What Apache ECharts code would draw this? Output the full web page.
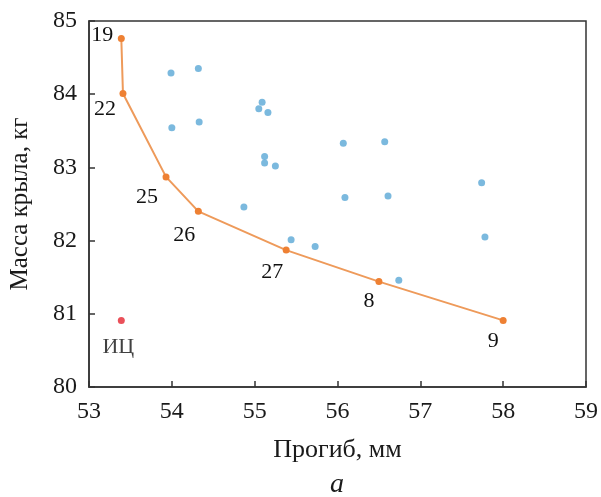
<!DOCTYPE html>
<html><head><meta charset="utf-8">
<script src="https://cdn.jsdelivr.net/npm/echarts@6/dist/echarts.min.js"></script>
<style>html,body{margin:0;padding:0;background:#fff}#c{width:601px;height:497px}</style>
</head><body><div id="c"></div>
<script>
// Pareto front (orange)
const paretoX = [53.39, 53.41, 53.93, 54.32, 55.38, 56.50, 58.00];
const paretoY = [84.76, 84.01, 82.87, 82.40, 81.87, 81.44, 80.91];
const paretoLabels = ['19', '22', '25', '26', '27', '8', '9'];
// Other designs (blue)
const otherX = [53.99, 54.32, 54.00, 54.33, 55.09, 55.05, 55.16, 55.12, 55.12, 55.25, 54.87, 55.44, 55.73, 56.07, 56.57, 56.09, 56.61, 57.74, 57.78, 56.74];
const otherY = [84.29, 84.35, 83.54, 83.62, 83.89, 83.80, 83.75, 83.15, 83.06, 83.02, 82.46, 82.01, 81.92, 83.33, 83.35, 82.59, 82.61, 82.79, 82.05, 81.46];
// Initial design (red)
const initX = [53.39];
const initY = [80.91];
const initLabels = ['ИЦ'];
const xTicks = [53, 54, 55, 56, 57, 58, 59];
const yTicks = [80, 81, 82, 83, 84, 85];

const labelOffsets = {'19': [-19, -3], '22': [-18, 16], '25': [-19, 20], '26': [-14, 24], '27': [-14, 22], '8': [-10, 20], '9': [-10, 21], 'ИЦ': [-3, 7]};
const font = '"Liberation Serif", "DejaVu Serif", serif';
const lblStyle = (t, pos) => ({show: true, formatter: t, position: pos || 'inside', offset: labelOffsets[t], fontFamily: font, fontSize: 22, fontWeight: 'normal', color: '#111', textBorderWidth: 0, textBorderColor: 'transparent'});

const chart = echarts.init(document.getElementById('c'), null, {renderer: 'canvas'});
chart.setOption({
  animation: false,
  backgroundColor: '#fff',
  grid: {left: 88, right: 15, top: 21, bottom: 110, show: true, borderColor: '#333', borderWidth: 1.5, backgroundColor: 'transparent'},
  title: {text: 'a', left: 330, top: 471, padding: 0, textStyle: {fontFamily: font, fontStyle: 'italic', fontWeight: 'normal', fontSize: 28, color: '#1a1a1a'}},
  xAxis: {
    type: 'value', min: xTicks[0], max: xTicks[xTicks.length - 1], interval: 1,
    name: 'Прогиб, мм', nameLocation: 'middle', nameGap: 50,
    nameTextStyle: {fontFamily: font, fontSize: 26, color: '#1a1a1a'},
    axisLine: {show: true, lineStyle: {color: '#333', width: 1.5}},
    axisTick: {show: true, inside: true, length: 6, lineStyle: {color: '#333', width: 1.5}},
    axisLabel: {fontFamily: font, fontSize: 24, color: '#1a1a1a', margin: 13},
    splitLine: {show: false}
  },
  yAxis: {
    type: 'value', min: yTicks[0], max: yTicks[yTicks.length - 1], interval: 1,
    name: 'Масса крыла, кг', nameLocation: 'middle', nameGap: 56,
    nameTextStyle: {fontFamily: font, fontSize: 25, color: '#1a1a1a'},
    axisLine: {show: true, lineStyle: {color: '#333', width: 1.5}},
    axisTick: {show: true, inside: true, length: 6, lineStyle: {color: '#333', width: 1.5}},
    axisLabel: {fontFamily: font, fontSize: 24, color: '#1a1a1a', margin: 12},
    splitLine: {show: false}
  },
  series: [
    {
      type: 'scatter', symbolSize: 7, itemStyle: {color: '#5AA7D6'},
      data: otherX.map((x, i) => [x, otherY[i]])
    },
    {
      type: 'line', symbol: 'circle', symbolSize: 7,
      lineStyle: {color: '#EE9A5A', width: 2}, itemStyle: {color: '#EE8033'},
      data: paretoX.map((x, i) => ({value: [x, paretoY[i]], label: lblStyle(paretoLabels[i])}))
    },
    {
      type: 'scatter', symbolSize: 7, itemStyle: {color: '#E52430'},
      data: initX.map((x, i) => ({value: [x, initY[i]], label: lblStyle(initLabels[i], 'bottom')}))
    }
  ]
});
</script></body></html>
